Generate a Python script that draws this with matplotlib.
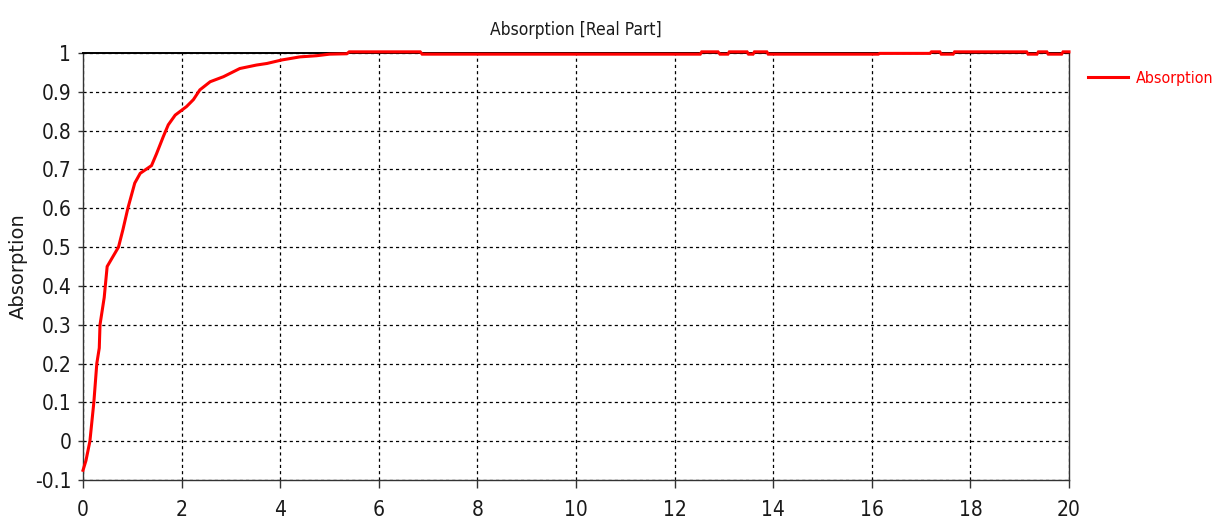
import matplotlib
matplotlib.use("Agg")
import matplotlib.pyplot as plt
from matplotlib import font_manager

# ---- data ----
freq = [0.00, 0.06, 0.14, 0.22, 0.28, 0.33, 0.345, 0.43, 0.49, 0.72, 0.81, 0.91,
        1.05, 1.16, 1.39, 1.49, 1.63, 1.73, 1.87, 2.10, 2.24, 2.37, 2.58, 2.85,
        3.18, 3.52, 3.73, 4.03, 4.40, 4.74, 5.00, 5.35, 5.40, 6.84, 6.88,
        12.52, 12.55, 12.88, 12.92, 13.08, 13.11, 13.47, 13.50, 13.59, 13.62,
        13.87, 13.90, 16.13, 16.16, 17.18, 17.21, 17.38, 17.41, 17.65, 17.68,
        19.14, 19.17, 19.35, 19.38, 19.55, 19.58, 19.85, 19.88, 20.00]
absorption = [-0.075, -0.05, 0.00, 0.10, 0.20, 0.24, 0.30, 0.37, 0.45, 0.50, 0.545, 0.60,
              0.665, 0.69, 0.71, 0.74, 0.785, 0.815, 0.84, 0.862, 0.88, 0.905, 0.926, 0.939,
              0.96, 0.969, 0.973, 0.982, 0.99, 0.993, 0.997, 0.998, 1.003, 1.003, 0.997,
              0.997, 1.003, 1.003, 0.997, 0.997, 1.003, 1.003, 0.997, 0.997, 1.003,
              1.003, 0.997, 0.997, 0.999, 0.999, 1.003, 1.003, 0.997, 0.997, 1.003,
              1.003, 0.997, 0.997, 1.003, 1.003, 0.997, 0.997, 1.003, 1.003]
x_ticks = [0, 2, 4, 6, 8, 10, 12, 14, 16, 18, 20]
y_ticks = [-0.1, 0, 0.1, 0.2, 0.3, 0.4, 0.5, 0.6, 0.7, 0.8, 0.9, 1]
y_tick_labels = ["-0.1", "0", "0.1", "0.2", "0.3", "0.4", "0.5", "0.6", "0.7", "0.8", "0.9", "1"]
title = "Absorption [Real Part]"
ylabel = "Absorption"
series_name = "Absorption"

# ---- fonts ----
available = {f.name for f in font_manager.fontManager.ttflist}
narrow = "Liberation Sans Narrow" if "Liberation Sans Narrow" in available else "DejaVu Sans"
stretch = "normal" if narrow != "DejaVu Sans" else "condensed"
plt.rcParams["font.family"] = [narrow, "DejaVu Sans"]

fig = plt.figure(figsize=(12.27, 5.30), dpi=100)
ax = fig.add_axes([83 / 1227, 1 - 480 / 530, (1069 - 83) / 1227, (480 - 53) / 530])

ax.plot(freq, absorption, color="#ff0000", linewidth=2.2, label=series_name,
        solid_joinstyle="miter", zorder=5, clip_on=False)

ax.set_xlim(0, 20)
ax.set_ylim(-0.1, 1)
ax.set_xticks(x_ticks)
ax.set_xticklabels([str(t) for t in x_ticks])
ax.set_yticks(y_ticks)
ax.set_yticklabels(y_tick_labels)

ax.grid(True, color="black", linestyle=(0, (2.5, 2.5)), linewidth=0.9)
ax.set_axisbelow(True)

for side in ["left", "bottom", "right"]:
    ax.spines[side].set_color("#333333")
    ax.spines[side].set_linewidth(1.0)
ax.spines["top"].set_color("black")
ax.spines["top"].set_linewidth(1.4)

ax.tick_params(axis="x", direction="out", length=5.5, width=1.0, color="#333333",
               pad=9, labelsize=15, labelcolor="#1a1a1a")
ax.tick_params(axis="y", direction="out", length=3.5, width=1.0, color="#333333",
               pad=5, labelsize=15, labelcolor="#1a1a1a")
for lbl in ax.get_xticklabels() + ax.get_yticklabels():
    lbl.set_fontstretch(stretch)

fig.text((83 + 1069) / 2 / 1227, 1 - 30 / 530, title, ha="center", va="center",
         fontsize=12.5, color="#1a1a1a", fontstretch=stretch)
fig.text(18 / 1227, 1 - 266 / 530, ylabel, ha="center", va="center", rotation=90,
         fontsize=14, color="#1a1a1a", family="DejaVu Sans")

leg = ax.legend(loc="center left", bbox_to_anchor=(1088 / 1227, 1 - 78 / 530),
                bbox_transform=fig.transFigure, frameon=False, fontsize=11.5,
                handlelength=2.5, handletextpad=0.5, borderpad=0, borderaxespad=0)
for t in leg.get_texts():
    t.set_color("#ff0000")
    t.set_fontstretch(stretch)

fig.savefig("out.png", dpi=100)
